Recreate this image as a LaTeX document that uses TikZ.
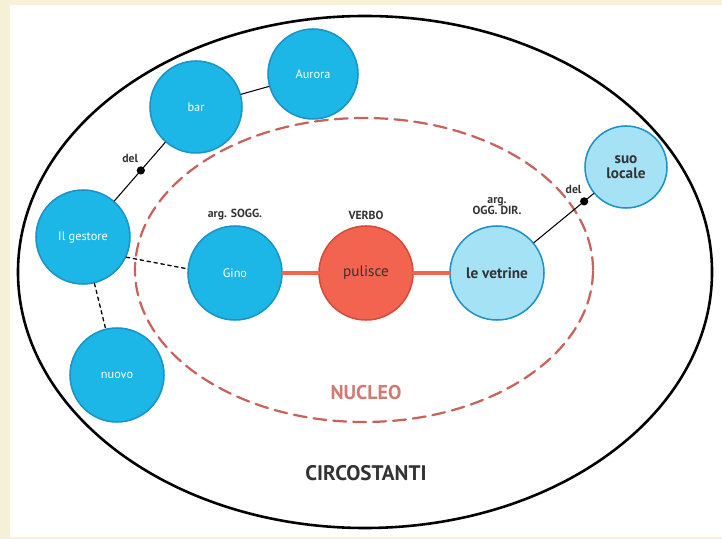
\documentclass[tikz,border=0pt]{standalone}
\usepackage{fontspec}
\setmainfont{PT Sans}
\usetikzlibrary{positioning}
\definecolor{crema}{HTML}{F6F1D6}
\definecolor{cielo}{HTML}{1CB6E7}
\definecolor{cielobordo}{HTML}{1A93C9}
\definecolor{chiaro}{HTML}{A6E2F5}
\definecolor{rosso}{HTML}{F2644F}
\definecolor{rossobordo}{HTML}{D44A3B}
\definecolor{nucleo}{HTML}{C9625A}
\definecolor{scritta}{HTML}{333333}
\begin{document}
\begin{tikzpicture}[x=0.03cm,y=-0.03cm,line join=round,line cap=round,
	circ/.style={circle,draw=cielobordo,line width=1.3pt,fill=cielo,text=white,minimum size=2.82cm,inner sep=0pt,align=center,font=\fontsize{10.5}{11}\selectfont},
	circl/.style={circ,fill=chiaro,text=scritta,font=\fontsize{13}{13}\selectfont\bfseries},
	verbo/.style={circ,draw=rossobordo,fill=rosso,text=scritta,font=\fontsize{13}{13}\selectfont},
	etich/.style={text=scritta,font=\fontsize{10}{10}\selectfont\bfseries,align=center},
	punto/.style={circle,fill=black,inner sep=0pt,minimum size=7pt}]
			\fill[crema] (0,0) rectangle (722,539);
			\fill[white] (10,5) rectangle (722,537);
			\draw[line width=2.2pt] (365,272) ellipse (10.41cm and 7.68cm);
			\draw[nucleo,line width=1.9pt,dash pattern=on 11pt off 6pt] (364,270) ellipse (6.87cm and 4.56cm);
			\node[circ] (gino) at (235,273) {Gino};
			\node[verbo] (pulisce) at (366,273) {pulisce};
			\node[circl] (vetrine) at (497,273) {le vetrine};
			\node[circ] (gestore) at (83,237) {Il gestore};
			\node[circ,minimum size=2.76cm] (bar) at (196,107) {bar};
			\node[circ,minimum size=2.7cm] (aurora) at (313,74) {Aurora};
			\node[circ] (nuovo) at (117,375) {nuovo};
			\node[circl,minimum size=2.46cm] (locale) at (626,167) {suo\\locale};
			\node[etich] (sogg) at (235,215) {arg. SOGG.};
			\node[etich] (verb) at (366,215) {VERBO};
			\node[etich] (ogg) at (497,206) {arg.\\OGG. DIR.};
			\node[text=nucleo!85,font=\fontsize{17}{19}\selectfont\bfseries] (nuc) at (366,393) {NUCLEO};
			\node[text=scritta,font=\fontsize{18}{20}\selectfont\bfseries] (circo) at (366,473) {CIRCOSTANTI};
			\draw[rosso,line width=2.8pt] (gino)--(pulisce) (pulisce)--(vetrine);
			\draw[line width=0.9pt] (gestore)--node[pos=0.52,punto](d1){}(bar);
			\node[etich,above left=0pt and -4pt of d1] (del1) {del};
			\draw[line width=0.9pt] (bar)--(aurora);
			\draw[line width=0.9pt] (vetrine)--node[pos=0.84,punto](d2){}(locale);
			\node[etich,above left=0pt and -4pt of d2] (del2) {del};
			\draw[line width=1.1pt,dashed] (gestore.-25)--(gino.175);
			\draw[line width=1.1pt,dashed] (gestore)--(nuovo);
\end{tikzpicture}
\end{document}
